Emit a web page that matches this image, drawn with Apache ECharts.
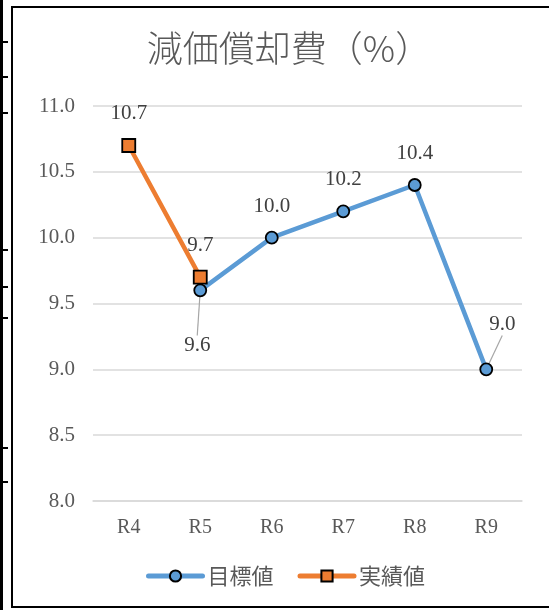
<!DOCTYPE html>
<html>
<head>
<meta charset="utf-8">
<script src="https://cdn.jsdelivr.net/npm/echarts@6/dist/echarts.min.js"></script>
<style>
  html, body { margin: 0; padding: 0; background: #fff; }
  #chart { width: 549px; height: 610px; }
</style>
</head>
<body>
<div id="chart"></div>
<script>
// Fiscal years on the category axis
const categories = ['R4', 'R5', 'R6', 'R7', 'R8', 'R9'];
// 目標値 (target) and 実績値 (actual) depreciation ratio, %
const targetValues = [null, 9.6, 10.0, 10.2, 10.4, 9.0];
const actualValues = [10.7, 9.7, null, null, null, null];
// Value axis ticks
const yTicks = [8.0, 8.5, 9.0, 9.5, 10.0, 10.5, 11.0];
const titleText = '減価償却費（%）';
const seriesNames = ['目標値', '実績値'];

const numFont = '"Liberation Serif", "Noto Sans CJK JP", serif';
const cjkFont = '"Noto Sans CJK JP", sans-serif';
const BLUE = '#5B9BD5';
const ORANGE = '#ED7D31';

const chart = echarts.init(document.getElementById('chart'), null, { renderer: 'canvas' });

// Labels that sit away from their points, joined by a guide line
const movedLabels = { 1: { dx: -3, dy: 87 }, 5: { dx: 16, dy: -13 } };

const targetData = targetValues.map((v, i) => ({
  value: v,
  labelLine: { show: !!movedLabels[i] }
}));

const valueLabel = {
  show: true, position: 'top', distance: 14,
  fontFamily: numFont, fontSize: 21, color: '#404040',
  formatter: p => p.value == null ? '' : Number(p.value).toFixed(1)
};

const option = {
  backgroundColor: '#ffffff',
  animation: false,
  title: {
    text: titleText,
    left: 284,
    top: 25,
    textAlign: 'center',
    textStyle: { fontFamily: cjkFont, fontSize: 36, fontWeight: 300, color: '#595959' }
  },
  grid: { left: 93, right: 27, top: 106, bottom: 109, containLabel: false, outerBoundsMode: 'none' },
  xAxis: {
    type: 'category',
    data: categories,
    boundaryGap: true,
    axisLine: { show: true, lineStyle: { color: '#d9d9d9', width: 1.5 } },
    axisTick: { show: false },
    axisLabel: { fontFamily: numFont, fontSize: 20, color: '#595959', margin: 17 }
  },
  yAxis: {
    type: 'value',
    min: yTicks[0],
    max: yTicks[yTicks.length - 1],
    interval: yTicks[1] - yTicks[0],
    axisLine: { show: false },
    axisTick: { show: false },
    splitLine: { lineStyle: { color: '#d9d9d9', width: 1.5 } },
    axisLabel: {
      fontFamily: numFont, fontSize: 21, color: '#595959', margin: 18,
      formatter: v => v.toFixed(1)
    }
  },
  legend: {
    bottom: 23,
    left: 146,
    padding: 0,
    itemWidth: 54,
    itemHeight: 14,
    itemGap: 24,
    lineStyle: { width: 5, cap: 'round' },
    textStyle: { fontFamily: cjkFont, fontSize: 22, color: '#595959' },
    data: seriesNames
  },
  series: [
    {
      name: seriesNames[0],
      type: 'line',
      data: targetData,
      connectNulls: false,
      symbol: 'circle',
      symbolSize: 12,
      lineStyle: { color: BLUE, width: 4.5, cap: 'round' },
      itemStyle: { color: BLUE, borderColor: '#000', borderWidth: 1.8 },
      label: valueLabel,
      labelLine: { show: false, lineStyle: { color: '#a6a6a6', width: 1.2 } },
      labelLayout: p => movedLabels[p.dataIndex] || {},
      z: 2
    },
    {
      name: seriesNames[1],
      type: 'line',
      data: actualValues,
      connectNulls: false,
      symbol: 'rect',
      symbolSize: 13,
      lineStyle: { color: ORANGE, width: 4.5, cap: 'round' },
      itemStyle: { color: ORANGE, borderColor: '#000', borderWidth: 1.8 },
      label: valueLabel,
      z: 3
    }
  ],
  graphic: [
    // chart frame
    { type: 'rect', shape: { x: 12, y: 7, width: 600, height: 600 }, style: { fill: 'none', stroke: '#000', lineWidth: 2 }, silent: true, z: 10 },
    // edge of the neighbouring sheet object
    { type: 'rect', shape: { x: 0, y: 0, width: 3, height: 610 }, style: { fill: '#000' }, silent: true, z: 10 },
    { type: 'group', silent: true, z: 10, children: [42, 77, 113, 250, 287, 318, 448, 482].map(y => ({
      type: 'rect', shape: { x: 0, y: y - 1, width: 8, height: 2 }, style: { fill: '#000' }
    })) }
  ]
};

chart.setOption(option);
</script>
</body>
</html>
